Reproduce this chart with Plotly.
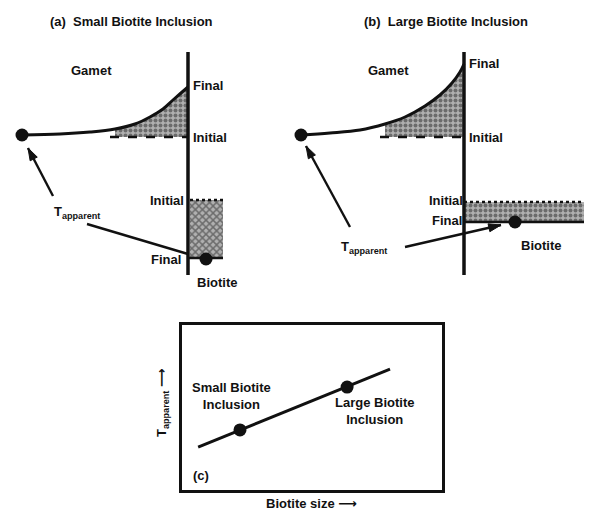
import plotly.graph_objects as go

# ---------------- data (diagram units: x to the right, y downward) ----------------
# Panel (a): garnet profile, small biotite inclusion
garnet_a_x = [22, 60, 90, 115, 135, 150, 163, 173, 181, 188]
garnet_a_y = [135, 134, 132, 129, 124, 117, 109, 100, 93, 87]
garnet_a_initial = 137
interface_a_x = 188
interface_a_top, interface_a_bottom = 52, 275
biotite_a_x = [190, 223]
biotite_a_initial = 200
biotite_a_final = 258
tapp_a_garnet = (22, 135)
tapp_a_biotite = (206, 259)

# Panel (b): garnet profile, large biotite inclusion
garnet_b_x = [301, 330, 360, 385, 405, 425, 440, 452, 460, 464]
garnet_b_y = [135, 133, 130, 124, 117, 106, 95, 83, 72, 64]
garnet_b_initial = 137
interface_b_x = 464
interface_b_top, interface_b_bottom = 52, 275
biotite_b_x = [464, 592]
biotite_b_initial = 202
biotite_b_final = 222
tapp_b_garnet = (301, 135)
tapp_b_biotite = (515, 222)

# Panel (c): apparent temperature vs biotite size
trend_size = [0.62, 8.0]
trend_tapp = [2.6, 7.33]
incl_size = [2.23, 6.35]
incl_tapp = [3.64, 6.24]
incl_labels = ["Small Biotite<br>Inclusion", "Large Biotite<br>Inclusion"]

FONT = "Liberation Sans, Arial, DejaVu Sans, sans-serif"
INK = "#111111"
PAGE_MARGIN = 8  # default body margin of the page

fig = go.Figure()


def line(x, y, width=3, dash="solid", xa="x", ya="y", shape="linear"):
    fig.add_trace(go.Scatter(x=x, y=y, mode="lines", xaxis=xa, yaxis=ya,
                             line=dict(color=INK, width=width, dash=dash, shape=shape),
                             hoverinfo="skip", showlegend=False))


def fillpoly(x, y, shape):
    fig.add_trace(go.Scatter(x=x, y=y, mode="lines", fill="toself",
                             line=dict(width=0, color="rgba(0,0,0,0)"),
                             fillcolor="#8a8a8a",
                             fillpattern=dict(shape=shape, fgcolor="#262626",
                                              bgcolor="#b0b0b0", size=5, solidity=0.5),
                             hoverinfo="skip", showlegend=False))


def arrow(p0, p1, head=True):
    fig.add_trace(go.Scatter(x=[p0[0], p1[0]], y=[p0[1], p1[1]], mode="lines",
                             line=dict(color=INK, width=2.4),
                             hoverinfo="skip", showlegend=False))
    if head:
        fig.add_trace(go.Scatter(x=[p0[0], p1[0]], y=[p0[1], p1[1]], mode="markers",
                                 marker=dict(symbol=["circle", "arrow"], size=[0, 13],
                                             angleref="previous", color=INK, opacity=1,
                                             line=dict(width=1, color=INK)),
                                 hoverinfo="skip", showlegend=False))


def dot(x, y, size=13):
    fig.add_trace(go.Scatter(x=x, y=y, mode="markers",
                             marker=dict(color=INK, size=size),
                             hoverinfo="skip", showlegend=False))


# ---- panel (a) ----
ka = [i for i, v in enumerate(garnet_a_x) if v >= 100]
fillpoly([garnet_a_x[i] for i in ka] + [interface_a_x, garnet_a_x[ka[0]]],
         [garnet_a_y[i] for i in ka] + [garnet_a_initial, garnet_a_initial], ".")
fillpoly([biotite_a_x[0], biotite_a_x[1], biotite_a_x[1], biotite_a_x[0]],
         [biotite_a_initial, biotite_a_initial, biotite_a_final, biotite_a_final], "x")
line([garnet_a_x[ka[0]] - 5, interface_a_x], [garnet_a_initial] * 2, width=2.5, dash="dash")
line(biotite_a_x, [biotite_a_initial] * 2, width=2.5, dash="dot")
line([interface_a_x, biotite_a_x[1]], [biotite_a_final] * 2, width=2.5)
line(garnet_a_x, garnet_a_y, width=3, shape="spline")
line([interface_a_x] * 2, [interface_a_top, interface_a_bottom], width=3.5)
dot([tapp_a_garnet[0], tapp_a_biotite[0]], [tapp_a_garnet[1], tapp_a_biotite[1]])
arrow((53, 196), (28, 148))
arrow((87, 224), (188, 254), head=False)

# ---- panel (b) ----
kb = [i for i, v in enumerate(garnet_b_x) if v >= 365]
fillpoly([garnet_b_x[i] for i in kb] + [interface_b_x, garnet_b_x[kb[0]]],
         [garnet_b_y[i] for i in kb] + [garnet_b_initial, garnet_b_initial], ".")
fillpoly([biotite_b_x[0], biotite_b_x[1], biotite_b_x[1], biotite_b_x[0]],
         [biotite_b_initial, biotite_b_initial, biotite_b_final, biotite_b_final], ".")
line([garnet_b_x[kb[0]] - 5, interface_b_x], [garnet_b_initial] * 2, width=2.5, dash="dash")
line(biotite_b_x, [biotite_b_initial] * 2, width=2.5, dash="dot")
line(biotite_b_x, [biotite_b_final] * 2, width=2.5)
line(garnet_b_x, garnet_b_y, width=3, shape="spline")
line([interface_b_x] * 2, [interface_b_top, interface_b_bottom], width=3.5)
dot([tapp_b_garnet[0], tapp_b_biotite[0]], [tapp_b_garnet[1], tapp_b_biotite[1]])
arrow((350, 227), (306, 146))
arrow((405, 247), (501, 225))

# ---- panel (c) ----
line(trend_size, trend_tapp, width=3, xa="x2", ya="y2")
fig.add_trace(go.Scatter(x=incl_size, y=incl_tapp, mode="markers", xaxis="x2", yaxis="y2",
                         marker=dict(color=INK, size=13), hoverinfo="skip", showlegend=False))


# ---- text ----
def label(x, y, text, xanchor="left", size=13, xref="x", yref="y", angle=0):
    fig.add_annotation(x=x, y=y, xref=xref, yref=yref, text=text, showarrow=False,
                       xanchor=xanchor, yanchor="middle", textangle=angle,
                       font=dict(family=FONT, size=size, color=INK, weight="bold"))


label(131, 21, "(a)  Small Biotite Inclusion", "center", 13)
label(446, 21, "(b)  Large Biotite Inclusion", "center", 13)
label(91, 70, "Gamet", "center", 13)
label(388, 70, "Gamet", "center", 13)
label(191, 85, "Final")
label(191, 137, "Initial")
label(186, 200, "Initial", "right")
label(183, 259, "Final", "right")
label(217, 282, "Biotite", "center")
label(52, 212, "T<sub>apparent</sub>")
label(467, 63, "Final")
label(467, 137, "Initial")
label(465, 200, "Initial", "right")
label(464, 220, "Final", "right")
label(541, 245, "Biotite", "center")
label(339, 247, "T<sub>apparent</sub>")
label(1.92, 5.7, incl_labels[0], "center", 13, "x2", "y2")
label(7.42, 4.8, incl_labels[1], "center", 13, "x2", "y2")
label(0.35, 0.9, "(c)", "left", 13, "x2", "y2")
label(311, 503, "Biotite size ⟶", "center", 13)
label(162, 403, "T<sub>apparent</sub> ⟶", "center", 13, angle=-90)

W, H = 592 - PAGE_MARGIN, 510 - PAGE_MARGIN


def px_x(v):
    return (v - PAGE_MARGIN) / W


def px_y(v):
    return 1 - (v - PAGE_MARGIN) / H


fig.update_layout(
    width=W, height=H,
    margin=dict(l=0, r=0, t=0, b=0),
    paper_bgcolor="white", plot_bgcolor="rgba(0,0,0,0)",
    font=dict(family=FONT, color=INK),
    xaxis=dict(range=[PAGE_MARGIN, 592], domain=[0, 1], visible=False, fixedrange=True),
    yaxis=dict(range=[510, PAGE_MARGIN], domain=[0, 1], visible=False, fixedrange=True),
    xaxis2=dict(range=[0, 10], domain=[px_x(182), px_x(442)], anchor="y2",
                showline=True, mirror=True, linewidth=3, linecolor=INK,
                showgrid=False, zeroline=False, ticks="", showticklabels=False),
    yaxis2=dict(range=[0, 10], domain=[px_y(490), px_y(325)], anchor="x2",
                showline=True, mirror=True, linewidth=3, linecolor=INK,
                showgrid=False, zeroline=False, ticks="", showticklabels=False),
)

fig.write_html("out.html")
